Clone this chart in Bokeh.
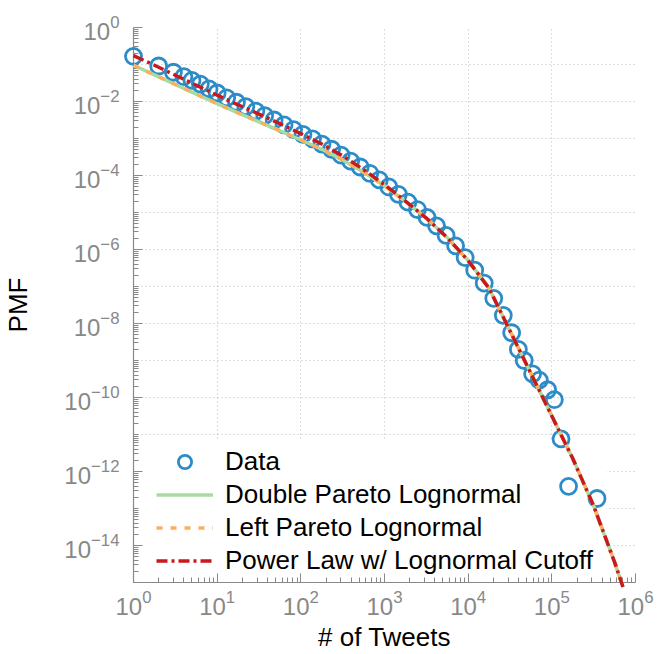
from bokeh.plotting import figure
from bokeh.models import (Range1d, FixedTicker, LogTickFormatter, Legend,
                          LegendItem, BoxAnnotation)
from bokeh.embed import file_html
from bokeh.resources import INLINE

# Observed distribution: number of tweets per user (log-binned) and PMF (log10)
tweets = [1, 2, 3, 4, 5, 6.3, 8, 10, 13, 17, 22, 29, 37, 48, 63, 82, 106, 138,
          179, 233, 303, 394, 513, 667, 867, 1127, 1466, 1905, 2477, 3221,
          4188, 5445, 7079, 9204, 11967, 15560, 20230, 26303, 33113, 39811,
          46774, 58884, 70795, 89125, 107152, 128825, 158489, 346737]
pmf_log10 = [-0.78, -1.04, -1.21, -1.33, -1.43, -1.53, -1.66, -1.77, -1.90,
             -2.02, -2.14, -2.26, -2.38, -2.50, -2.63, -2.76, -2.89, -3.01,
             -3.15, -3.29, -3.45, -3.61, -3.77, -3.94, -4.12, -4.31, -4.51,
             -4.72, -4.92, -5.13, -5.36, -5.62, -5.90, -6.22, -6.56, -6.91,
             -7.32, -7.78, -8.25, -8.70, -9.00, -9.36, -9.53, -9.79, -10.06,
             -11.12, -12.40, -12.73]

# Fitted models evaluated at log10(# of tweets)
fit_log10_x = [0, 0.25, 0.5, 0.75, 1.0, 1.25, 1.5, 1.75, 2.0, 2.25, 2.5, 2.75,
               3.0, 3.25, 3.5, 3.75, 4.0, 4.25, 4.5, 4.75, 5.0, 5.25, 5.5,
               5.75, 5.85]
dpln_log10 = [-1.02, -1.28, -1.54, -1.80, -2.06, -2.31, -2.55, -2.79, -3.04,
              -3.29, -3.58, -3.91, -4.28, -4.70, -5.15, -5.68, -6.30, -7.05,
              -8.20, -9.35, -10.50, -11.65, -12.93, -14.45, -15.12]
lpln_log10 = [-1.02, -1.28, -1.54, -1.80, -2.06, -2.31, -2.55, -2.79, -3.04,
              -3.29, -3.58, -3.91, -4.28, -4.70, -5.15, -5.68, -6.30, -7.05,
              -8.20, -9.35, -10.50, -11.65, -12.93, -14.45, -15.12]
plln_log10 = [-0.76, -1.02, -1.29, -1.56, -1.83, -2.09, -2.34, -2.60, -2.87,
              -3.15, -3.47, -3.84, -4.25, -4.69, -5.15, -5.68, -6.30, -7.05,
              -8.20, -9.35, -10.50, -11.65, -12.93, -14.45, -15.12]

legend_labels = ["Data", "Double Pareto Lognormal", "Left Pareto Lognormal",
                 "Power Law w/ Lognormal Cutoff"]

x_decades = [10.0 ** k for k in range(0, 7)]
y_labelled = [10.0 ** k for k in range(-14, 1, 2)]
y_decades = [10.0 ** k for k in range(-15, 1)]

FONT = "Liberation Sans"
GREY = "#888888"

pmf = [10.0 ** v for v in pmf_log10]
fit_x = [10.0 ** v for v in fit_log10_x]
dpln = [10.0 ** v for v in dpln_log10]
lpln = [10.0 ** v for v in lpln_log10]
plln = [10.0 ** v for v in plln_log10]

p = figure(width=661, height=654, x_axis_type="log", y_axis_type="log",
           x_range=Range1d(1, 1e6), y_range=Range1d(1e-15, 1),
           output_backend="svg", toolbar_location=None,
           min_border_left=133, min_border_right=26, min_border_top=27,
           min_border_bottom=66)
p.outline_line_color = None
p.background_fill_color = "white"
p.border_fill_color = "white"

# axes
xminor = [m * 10.0 ** k for k in range(0, 6) for m in range(2, 10)]
yminor = [m * 10.0 ** k for k in range(-15, 0) for m in range(2, 10)]
yminor += [10.0 ** k for k in range(-15, 0, 2)]
p.xaxis.ticker = FixedTicker(ticks=x_decades, minor_ticks=xminor)
p.yaxis.ticker = FixedTicker(ticks=y_labelled, minor_ticks=yminor)
p.xaxis.formatter = LogTickFormatter()
p.yaxis.formatter = LogTickFormatter()

for ax in (p.xaxis, p.yaxis):
    ax.axis_line_color = GREY
    ax.axis_line_width = 1.2
    ax.major_tick_line_color = GREY
    ax.minor_tick_line_color = GREY
    ax.major_tick_in = 9
    ax.major_tick_out = 0
    ax.minor_tick_in = 5
    ax.minor_tick_out = 0
    ax.major_label_text_color = GREY
    ax.major_label_text_font = FONT
    ax.major_label_text_font_size = "24px"
    ax.axis_label_text_font = FONT
    ax.axis_label_text_font_size = "26px"
    ax.axis_label_text_font_style = "normal"
    ax.axis_label_text_color = "black"

p.xaxis.axis_label = "# of Tweets"
p.yaxis.axis_label = "PMF"
p.xaxis.major_label_standoff = 7
p.xaxis.axis_label_standoff = 4
p.yaxis.major_label_standoff = 14
p.yaxis.axis_label_standoff = 28

# dotted grid on every decade
p.xgrid.ticker = FixedTicker(ticks=x_decades)
p.ygrid.ticker = FixedTicker(ticks=y_decades)
for g in (p.xgrid, p.ygrid):
    g.grid_line_color = "#bdbdbd"
    g.grid_line_dash = "1 3"
    g.grid_line_width = 1.2

# white panel behind the legend: hides the grid, stays under the curves
legend_panel = BoxAnnotation(left=134, right=606, top=440, bottom=587,
                             left_units="canvas", right_units="canvas",
                             top_units="canvas", bottom_units="canvas",
                             fill_color="white", fill_alpha=1.0,
                             line_color=None, level="underlay",
                             editable=False)
p.add_layout(legend_panel)

# data and fits are painted above everything in the frame
data_r = p.scatter(tweets, pmf, marker="circle", size=16, fill_color=None,
                   line_color="#2c8cc8", line_width=2.8, level="overlay")
dpln_r = p.line(fit_x, dpln, line_color="#a8dba0", line_width=3.5,
                level="overlay")
lpln_r = p.line(fit_x, lpln, line_color="#fdad5c", line_width=3.5,
                line_dash="6 8", level="overlay")
plln_r = p.line(fit_x, plln, line_color="#c8191e", line_width=3.5,
                line_dash="11 4 3 4", level="overlay")

legend = Legend(items=[
    LegendItem(label=legend_labels[0], renderers=[data_r]),
    LegendItem(label=legend_labels[1], renderers=[dpln_r]),
    LegendItem(label=legend_labels[2], renderers=[lpln_r]),
    LegendItem(label=legend_labels[3], renderers=[plln_r]),
], location=(23, 5))
legend.glyph_width = 57
legend.glyph_height = 33
legend.label_height = 33
legend.spacing = 0
legend.padding = 5
legend.margin = 0
legend.label_standoff = 12
legend.label_text_font = FONT
legend.label_text_font_size = "26px"
legend.label_text_color = "black"
legend.border_line_color = None
legend.background_fill_alpha = 0.0
p.add_layout(legend, "center")

open("out.html", "w").write(file_html(p, INLINE))
